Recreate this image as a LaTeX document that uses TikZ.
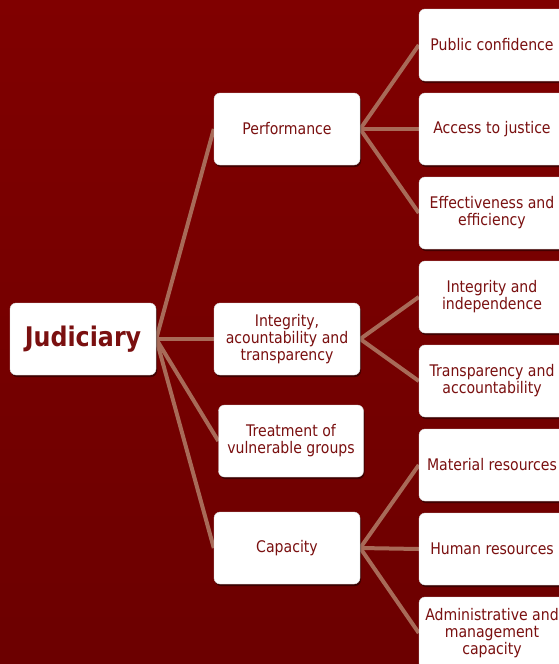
\documentclass[tikz,border=0pt]{standalone}
\usepackage{fontspec}
\setmainfont{DejaVu Sans}[FakeStretch=0.88]
\usetikzlibrary{shadows,backgrounds}
\definecolor{bgtop}{HTML}{800000}
\definecolor{bgbot}{HTML}{6C0000}
\definecolor{boxtext}{HTML}{7A1010}
\definecolor{branch}{HTML}{A86A58}
\tikzset{
  topic/.style={draw=gray!30, fill=white, rounded corners=6pt,
    minimum width=146pt, minimum height=72pt, inner sep=2pt,
    align=center, text=boxtext, font=\fontsize{16}{17}\selectfont,
    drop shadow={shadow xshift=1pt, shadow yshift=-2pt, opacity=.45, fill=black}},
  root/.style={topic, font=\bfseries\fontsize{27}{30}\selectfont},
  branchline/.style={draw=branch, line width=4pt}
}
\begin{document}
\begin{tikzpicture}[x=1pt, y=-1pt]
\useasboundingbox (0,0) rectangle (558,664);
\clip (-2,-2) rectangle (560,666);

\node[root] (judiciary) at (83,339) {Judiciary};

\node[topic] (perform) at (287,129) {Performance};
\node[topic] (integrity) at (287,339) {Integrity,\\acountability and\\transparency};
\node[topic, minimum width=145pt] (treatment) at (291,441) {Treatment of\\vulnerable groups};
\node[topic] (capacity) at (287,548) {Capacity};

\node[topic] (confidence) at (492,45) {Public confidence};
\node[topic] (access) at (492,129) {Access to justice};
\node[topic] (effective) at (492,213) {Effectiveness and\\efficiency};
\node[topic] (independ) at (492,297) {Integrity and\\independence};
\node[topic] (transpar) at (492,381) {Transparency and\\accountability};
\node[topic] (material) at (492,465) {Material resources};
\node[topic] (human) at (492,549) {Human resources};
\node[topic] (admin) at (492,633) {Administrative and\\management\\capacity};

\begin{scope}[on background layer]
\fill[top color=bgtop, bottom color=bgbot] (-2,-2) rectangle (560,666);
\foreach \kid in {perform,integrity,treatment,capacity}
  \draw[branchline] (judiciary.east) -- (\kid.west);
\foreach \kid in {confidence,access,effective}
  \draw[branchline] (perform.east) -- (\kid.west);
\foreach \kid in {independ,transpar}
  \draw[branchline] (integrity.east) -- (\kid.west);
\foreach \kid in {material,human,admin}
  \draw[branchline] (capacity.east) -- (\kid.west);
\end{scope}
\end{tikzpicture}
\end{document}
